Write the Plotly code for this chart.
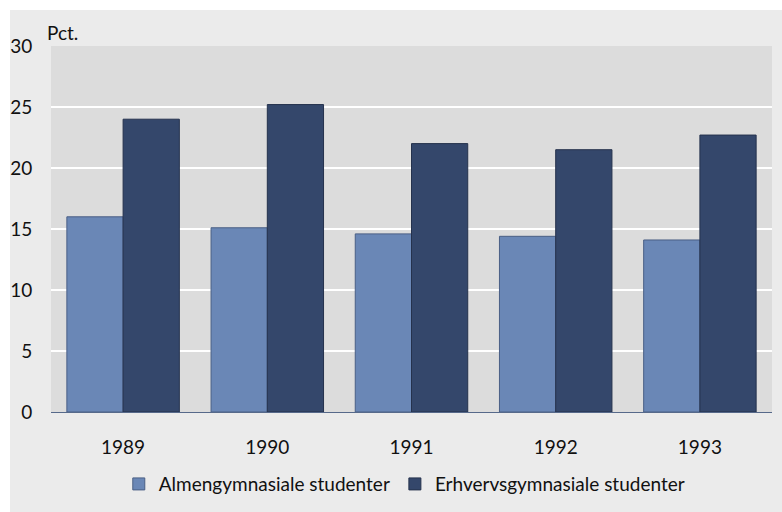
import plotly.graph_objects as go

years = ["1989", "1990", "1991", "1992", "1993"]
almen = [16.0, 15.1, 14.6, 14.4, 14.1]
erhverv = [24.0, 25.2, 22.0, 21.5, 22.7]
y_ticks = [0, 5, 10, 15, 20, 25, 30]

font = "Lato"

fig = go.Figure()
fig.add_trace(go.Bar(x=years, y=almen, name="Almengymnasiale studenter",
                     marker=dict(color="#6a87b6", line=dict(color="#4a5f85", width=1))))
fig.add_trace(go.Bar(x=years, y=erhverv, name="Erhvervsgymnasiale studenter",
                     marker=dict(color="#34476b", line=dict(color="#25324d", width=1))))

# plot area 51..772 x 46..412, light grey frame starting at 10,10
white_strip = dict(type="rect", xref="paper", yref="paper", layer="above",
                   fillcolor="white", line=dict(width=0))
fig.update_layout(
    width=782, height=512,
    margin=dict(l=51, r=10, t=46, b=100, autoexpand=False),
    paper_bgcolor="#ebebeb",
    plot_bgcolor="#dcdcdc",
    barmode="group", bargap=0.22, bargroupgap=0,
    font=dict(family=font, size=19, color="#111111"),
    legend=dict(orientation="h", x=0.49, xanchor="center", y=-0.145, yanchor="top",
                font=dict(size=19), bgcolor="rgba(0,0,0,0)", traceorder="normal",
                itemwidth=30),
    showlegend=True,
    shapes=[
        dict(white_strip, x0=-51 / 721, x1=(10 - 51) / 721, y0=-100 / 366, y1=1 + 46 / 366),
        dict(white_strip, x0=-51 / 721, x1=1 + 10 / 721, y0=1 + 36 / 366, y1=1 + 46 / 366),
    ],
    annotations=[dict(text="Pct.", xref="paper", yref="paper", x=-6 / 721, y=1.0,
                      xanchor="left", yanchor="bottom", showarrow=False,
                      font=dict(size=19))],
)
fig.update_xaxes(showgrid=False, showline=True, linecolor="#56698a", linewidth=1,
                 ticks="outside", ticklen=18, tickcolor="rgba(0,0,0,0)", automargin=False)
fig.update_yaxes(range=[0, 30], tickvals=y_ticks, showgrid=True, gridcolor="white",
                 gridwidth=2, zeroline=False, ticks="outside", ticklen=14,
                 tickcolor="rgba(0,0,0,0)", automargin=False)

fig.write_html("out.html", config={"displayModeBar": False},
               post_script="document.body.style.margin='0';")
